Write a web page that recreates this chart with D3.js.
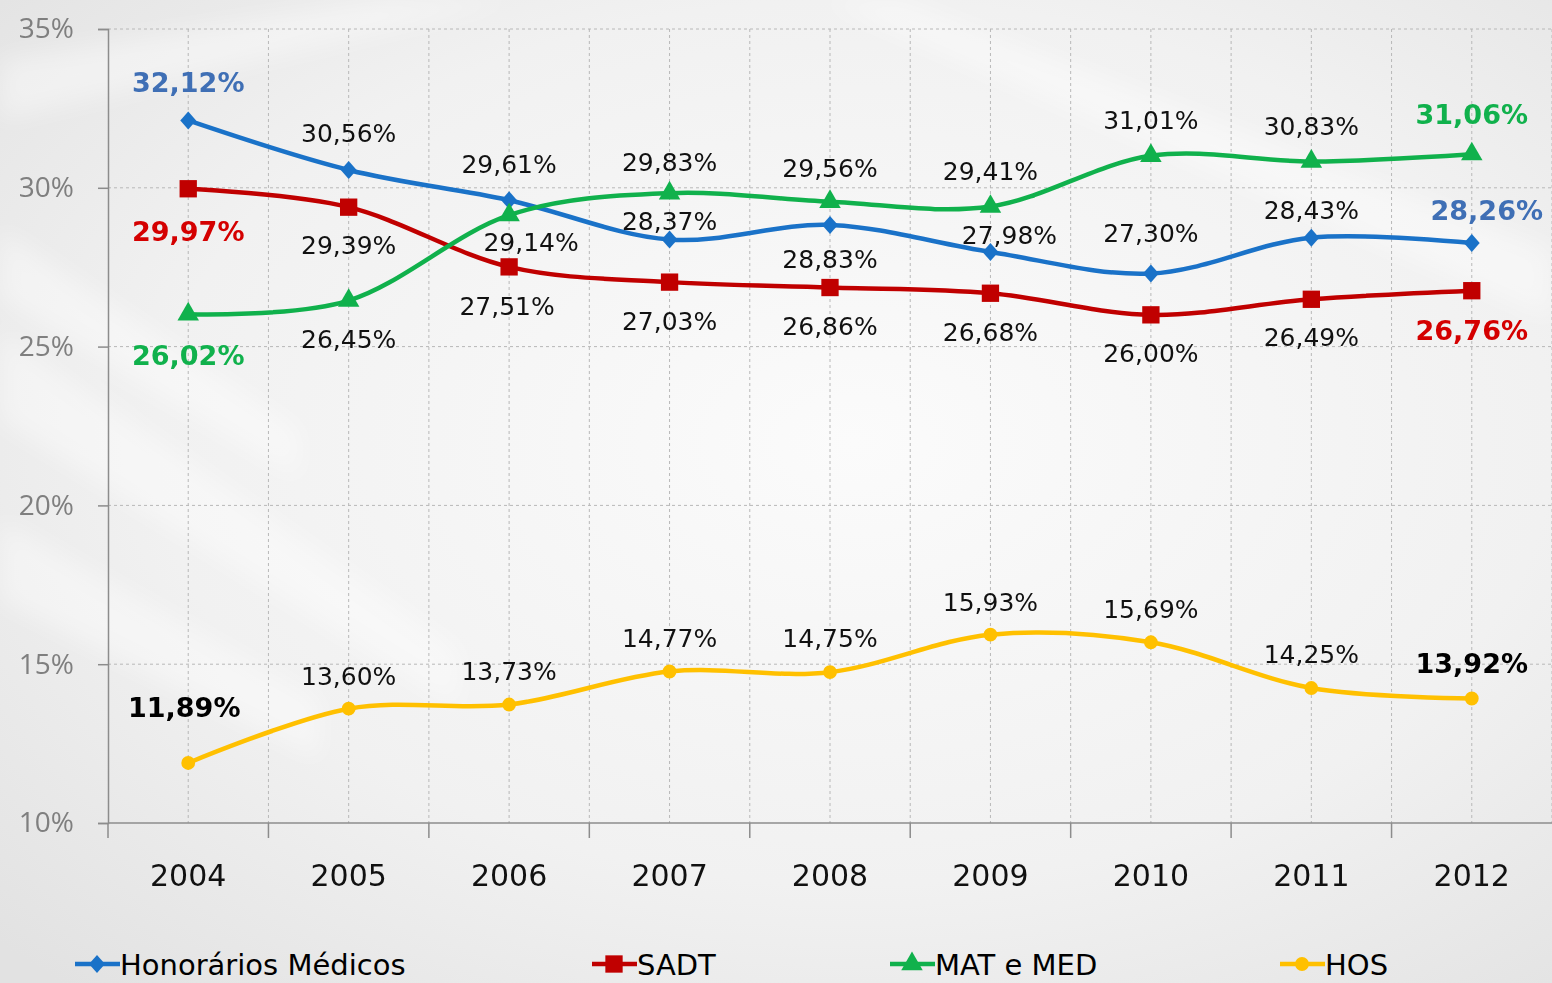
<!DOCTYPE html>
<html>
<head>
<meta charset="utf-8">
<script src="https://cdn.jsdelivr.net/npm/d3@7"></script>
<style>
  html, body { margin: 0; padding: 0; overflow: hidden; }
  body { width: 1552px; height: 983px; }
</style>
</head>
<body>
<script>
var years = ['2004', '2005', '2006', '2007', '2008', '2009', '2010', '2011', '2012']
var honorarios = [32.12, 30.56, 29.61, 28.37, 28.83, 27.98, 27.30, 28.43, 28.26]
var sadt = [29.97, 29.39, 27.51, 27.03, 26.86, 26.68, 26.00, 26.49, 26.76]
var matMed = [26.02, 26.45, 29.14, 29.83, 29.56, 29.41, 31.01, 30.83, 31.06]
var hos = [11.89, 13.60, 13.73, 14.77, 14.75, 15.93, 15.69, 14.25, 13.92]
var yTicks = [10, 15, 20, 25, 30, 35]
var seriesNames = ['Honorários Médicos', 'SADT', 'MAT e MED', 'HOS']

// label offsets (px) from each point
var labelOffsets = {
	'Honorários Médicos': [[0, -38], [0, -37], [0, -36], [0, -19], [0, 34], [19, -17], [0, -41], [0, -28], [15, -33]],
	'SADT': [[0, 43], [0, 38], [-2, 39], [0, 39], [0, 38], [0, 39], [0, 38], [0, 38], [0, 40]],
	'MAT e MED': [[0, 41], [0, 38], [22, 27], [0, -31], [0, -34], [0, -36], [0, -36], [0, -35], [0, -40]],
	'HOS': [[-4, -56], [0, -33], [0, -34], [0, -34], [0, -34], [0, -33], [0, -33], [0, -34], [0, -35]]
}

// wider diamond than d3's default
var diamond = {
	draw: function (ctx, size) {
		var r = Math.sqrt(size / 2)
		ctx.moveTo(0, -r * 1.08)
		ctx.lineTo(r * 0.95, 0)
		ctx.lineTo(0, r * 1.08)
		ctx.lineTo(-r * 0.95, 0)
		ctx.closePath()
	}
}

var series = [
	{name: seriesNames[0], values: honorarios, color: '#1a72c8', labelColor: '#3f6fb5', symbol: diamond, size: 140},
	{name: seriesNames[1], values: sadt, color: '#c00000', labelColor: '#d40000', symbol: d3.symbolSquare, size: 300},
	{name: seriesNames[2], values: matMed, color: '#10b14c', labelColor: '#10b14c', symbol: d3.symbolTriangle, size: 200},
	{name: seriesNames[3], values: hos, color: '#ffc000', labelColor: '#000000', symbol: d3.symbolCircle, size: 150}
]

var width = 1552
var height = 983
var margin = {left: 108, right: 0, top: 29, bottom: 160}

var svg = d3.select('body').append('svg').attr('width', width).attr('height', height)

// background
var defs = svg.append('defs')
var grad = defs.append('radialGradient').attr('id', 'bg').attr('cx', '55%').attr('cy', '45%').attr('r', '75%')
grad.append('stop').attr('offset', '0%').attr('stop-color', '#fbfbfb')
grad.append('stop').attr('offset', '60%').attr('stop-color', '#f1f1f1')
grad.append('stop').attr('offset', '100%').attr('stop-color', '#e2e2e2')
svg.append('rect').attr('width', width).attr('height', height).attr('fill', 'url(#bg)')
defs.append('filter').attr('id', 'soft').append('feGaussianBlur').attr('stdDeviation', 12)

var streaks = [
	[[0, 230], [300, 430], [300, 480], [0, 300]],
	[[0, 330], [460, 650], [460, 710], [0, 420]],
	[[0, 520], [320, 700], [320, 760], [0, 600]],
	[[0, 60], [380, 0], [520, 0], [0, 120]],
	[[900, 0], [1552, 250], [1552, 320], [820, 0]]
]
svg.append('g').attr('filter', 'url(#soft)')
	.selectAll('.streak').data(streaks).enter().append('polygon')
	.attr('points', (d) => d.map((p) => p.join(',')).join(' '))
	.attr('fill', '#ffffff').attr('opacity', 0.4)

var x = d3.scalePoint()
	.domain(years)
	.range([margin.left, width - margin.right])
	.padding(0.5)

var step = x.step()

var y = d3.scaleLinear()
	.domain([10, 35])
	.range([height - margin.bottom, margin.top])

var plotBottom = y(10)
var plotTop = y(35)

// gridlines
var grid = svg.append('g').attr('class', 'grid')
grid.selectAll('.hgrid').data(yTicks.filter((t) => t > 10)).enter().append('line')
	.attr('x1', margin.left).attr('x2', width)
	.attr('y1', (d) => y(d)).attr('y2', (d) => y(d))
	.attr('stroke', '#b8b8b8').attr('stroke-width', 1).attr('stroke-dasharray', '3,3')

var vLines = []
years.forEach((yr, i) => {
	vLines.push(x(yr))
	if (i > 0) vLines.push(x(yr) - step / 2)
})
vLines.push(x(years[years.length - 1]) + step / 2)
grid.selectAll('.vgrid').data(vLines).enter().append('line')
	.attr('x1', (d) => d).attr('x2', (d) => d)
	.attr('y1', plotTop).attr('y2', plotBottom)
	.attr('stroke', '#b8b8b8').attr('stroke-width', 1).attr('stroke-dasharray', '3,3')

// y axis
var yAxis = d3.axisLeft(y).tickValues(yTicks).tickSize(10).tickPadding(24).tickFormat((d) => d + '%')
var yg = svg.append('g').attr('transform', 'translate(' + margin.left + ',0)').call(yAxis)
yg.select('.domain').attr('stroke', '#8c8c8c').attr('stroke-width', 1.5)
yg.selectAll('.tick line').attr('stroke', '#8c8c8c').attr('stroke-width', 1.5)
yg.selectAll('.tick text')
	.attr('font-family', '"Open Sans", sans-serif').attr('font-size', 28)
	.attr('fill', '#7f7f7f')

// x axis
var xg = svg.append('g').attr('transform', 'translate(0,' + plotBottom + ')')
xg.append('line').attr('x1', margin.left).attr('x2', width)
	.attr('y1', 0).attr('y2', 0).attr('stroke', '#8c8c8c').attr('stroke-width', 1.5)
var bounds = years.map((yr) => x(yr) - step / 2)
xg.selectAll('.xtick').data(bounds).enter().append('line')
	.attr('x1', (d) => d).attr('x2', (d) => d)
	.attr('y1', 0).attr('y2', 15)
	.attr('stroke', '#8c8c8c').attr('stroke-width', 1.5)
xg.selectAll('.xlabel').data(years).enter().append('text')
	.attr('x', (d) => x(d)).attr('y', 63)
	.attr('text-anchor', 'middle')
	.attr('font-family', '"DejaVu Sans", sans-serif').attr('font-size', 30)
	.attr('fill', '#111')
	.text((d) => d)

// lines
var line = d3.line()
	.x((d, i) => x(years[i]))
	.y((d) => y(d))
	.curve(d3.curveCardinal.tension(0))

var fmt = (v) => v.toFixed(2).replace('.', ',') + '%'

series.forEach((s) => {
	var g = svg.append('g')
	g.append('path').attr('d', line(s.values))
		.attr('fill', 'none').attr('stroke', s.color).attr('stroke-width', 4.5)
	g.selectAll('.pt').data(s.values).enter().append('path')
		.attr('d', d3.symbol().type(s.symbol).size(s.size))
		.attr('transform', (d, i) => 'translate(' + x(years[i]) + ',' + y(d) + ')')
		.attr('fill', s.color)
	var offs = labelOffsets[s.name]
	g.selectAll('.lbl').data(s.values).enter().append('text')
		.attr('x', (d, i) => x(years[i]) + offs[i][0])
		.attr('y', (d, i) => y(d) + offs[i][1])
		.attr('dy', '0.36em')
		.attr('text-anchor', 'middle')
		.attr('font-family', '"DejaVu Sans", sans-serif')
		.attr('font-size', (d, i) => (i === 0 || i === s.values.length - 1) ? 27 : 25)
		.attr('font-weight', (d, i) => (i === 0 || i === s.values.length - 1) ? 'bold' : 'normal')
		.attr('fill', (d, i) => (i === 0 || i === s.values.length - 1) ? s.labelColor : '#111')
		.text((d) => fmt(d))
})

// legend
var legendX = [75, 592, 890, 1280]
var legend = svg.append('g').attr('transform', 'translate(0,964)')
series.forEach((s, i) => {
	var lg = legend.append('g').attr('transform', 'translate(' + legendX[i] + ',0)')
	lg.append('line').attr('x1', 0).attr('x2', 45).attr('y1', 0).attr('y2', 0)
		.attr('stroke', s.color).attr('stroke-width', 4.5)
	lg.append('path').attr('d', d3.symbol().type(s.symbol).size(s.size))
		.attr('transform', 'translate(22,0)').attr('fill', s.color)
	lg.append('text').attr('x', 45).attr('y', 11)
		.attr('font-family', '"DejaVu Sans", sans-serif').attr('font-size', 29)
		.attr('fill', '#000')
		.text(s.name)
})
</script>
</body>
</html>
